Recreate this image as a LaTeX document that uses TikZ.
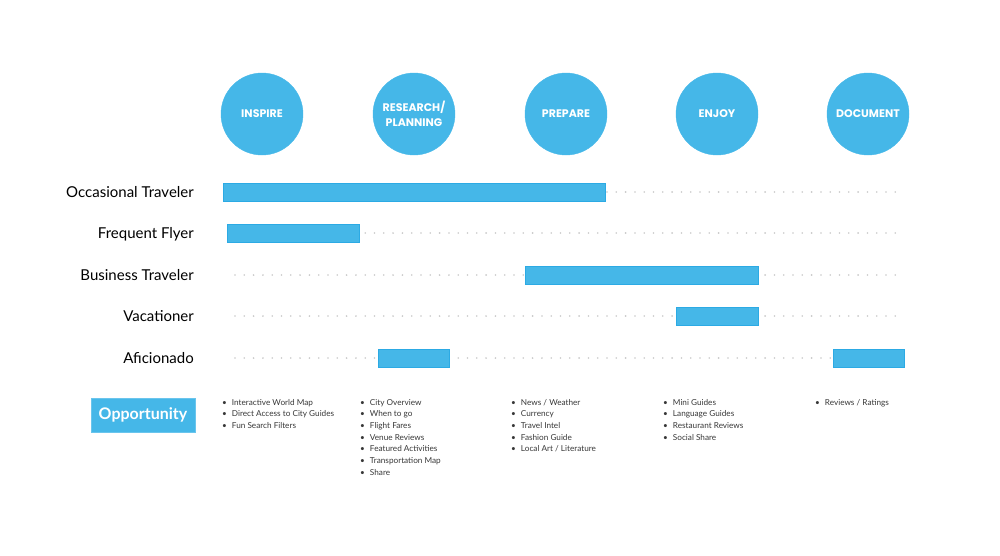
\documentclass[tikz,border=0pt]{standalone}
\usepackage{fontspec}
\setmainfont{Lato}
\newfontfamily\stagefont{Poppins}
\definecolor{skyblue}{RGB}{69,183,232}
\definecolor{skyedge}{RGB}{44,170,228}
\definecolor{dotgray}{RGB}{200,200,200}
\definecolor{listgray}{RGB}{55,55,55}

\begin{document}
\begin{tikzpicture}[x=1pt,y=-1pt]
\tikzstyle{stage}=[circle,fill=skyblue,draw=skyblue,minimum size=82pt,inner sep=0pt,align=center,text=white,font=\stagefont\bfseries\fontsize{11}{14.5}\selectfont]
\tikzstyle{persona}=[anchor=base east,inner sep=0pt,font=\fontsize{15}{17}\selectfont]
\tikzstyle{bar}=[fill=skyblue,draw=skyedge,line width=0.6pt,anchor=west,minimum height=18pt,inner sep=0pt]
\tikzstyle{track}=[dotgray,line width=1.8pt,line cap=round,dash pattern=on 0pt off 9.3pt]
\tikzstyle{oppbox}=[fill=skyblue,draw=skyblue!80!white,minimum width=104pt,minimum height=34pt,inner sep=0pt,text=white,font=\bfseries\fontsize{16}{18}\selectfont]
\tikzstyle{opplist}=[anchor=north west,inner sep=0pt,align=left,text=listgray,font=\fontsize{8.2}{11.67}\selectfont]
\useasboundingbox (0,0) rectangle (1000,555);
% stages
\node[stage] (inspire) at (262,114) {INSPIRE};
\node[stage] (research) at (414,114) {RESEARCH/\\PLANNING};
\node[stage] (prepare) at (566,114) {PREPARE};
\node[stage] (enjoy) at (717,114) {ENJOY};
\node[stage] (document) at (868,114) {DOCUMENT};
% travelers
\node[persona] (occ) at (194,197) {Occasional Traveler};
\node[persona] (freq) at (194,238.5) {Frequent Flyer};
\node[persona] (bus) at (194,280) {Business Traveler};
\node[persona] (vac) at (194,321.5) {Vacationer};
\node[persona] (afi) at (194,363) {Aficionado};
% dotted tracks
\coordinate (occstart) at (235,192);
\coordinate (occend) at (897,192);
\coordinate (freqstart) at (235,233);
\coordinate (freqend) at (897,233);
\coordinate (busstart) at (235,275);
\coordinate (busend) at (897,275);
\coordinate (vacstart) at (235,316);
\coordinate (vacend) at (897,316);
\coordinate (afistart) at (235,358);
\coordinate (afiend) at (897,358);
\draw[track] (occstart) -- (occend);
\draw[track] (freqstart) -- (freqend);
\draw[track] (busstart) -- (busend);
\draw[track] (vacstart) -- (vacend);
\draw[track] (afistart) -- (afiend);
% bars
\node[bar,minimum width=382pt] (occbar) at (223,192) {};
\node[bar,minimum width=132pt] (freqbar) at (227,233.4) {};
\node[bar,minimum width=233pt] (busbar) at (525,275) {};
\node[bar,minimum width=82pt] (vacbar) at (676,316.4) {};
\node[bar,minimum width=71pt] (afibar1) at (378,358) {};
\node[bar,minimum width=71pt] (afibar2) at (833,358) {};
% opportunity
\node[oppbox] (opp) at (143,415) {Opportunity};
\node[opplist] (inspirelist) at (222,399) {\textbullet\hspace{5pt}Interactive World Map\\\textbullet\hspace{5pt}Direct Access to City Guides\\\textbullet\hspace{5pt}Fun Search Filters};
\node[opplist] (researchlist) at (360,399) {\textbullet\hspace{5pt}City Overview\\\textbullet\hspace{5pt}When to go\\\textbullet\hspace{5pt}Flight Fares\\\textbullet\hspace{5pt}Venue Reviews\\\textbullet\hspace{5pt}Featured Activities\\\textbullet\hspace{5pt}Transportation Map\\\textbullet\hspace{5pt}Share};
\node[opplist] (preparelist) at (511,399) {\textbullet\hspace{5pt}News / Weather\\\textbullet\hspace{5pt}Currency\\\textbullet\hspace{5pt}Travel Intel\\\textbullet\hspace{5pt}Fashion Guide\\\textbullet\hspace{5pt}Local Art / Literature};
\node[opplist] (enjoylist) at (663,399) {\textbullet\hspace{5pt}Mini Guides\\\textbullet\hspace{5pt}Language Guides\\\textbullet\hspace{5pt}Restaurant Reviews\\\textbullet\hspace{5pt}Social Share};
\node[opplist] (documentlist) at (815,399) {\textbullet\hspace{5pt}Reviews / Ratings};
\end{tikzpicture}
\end{document}
